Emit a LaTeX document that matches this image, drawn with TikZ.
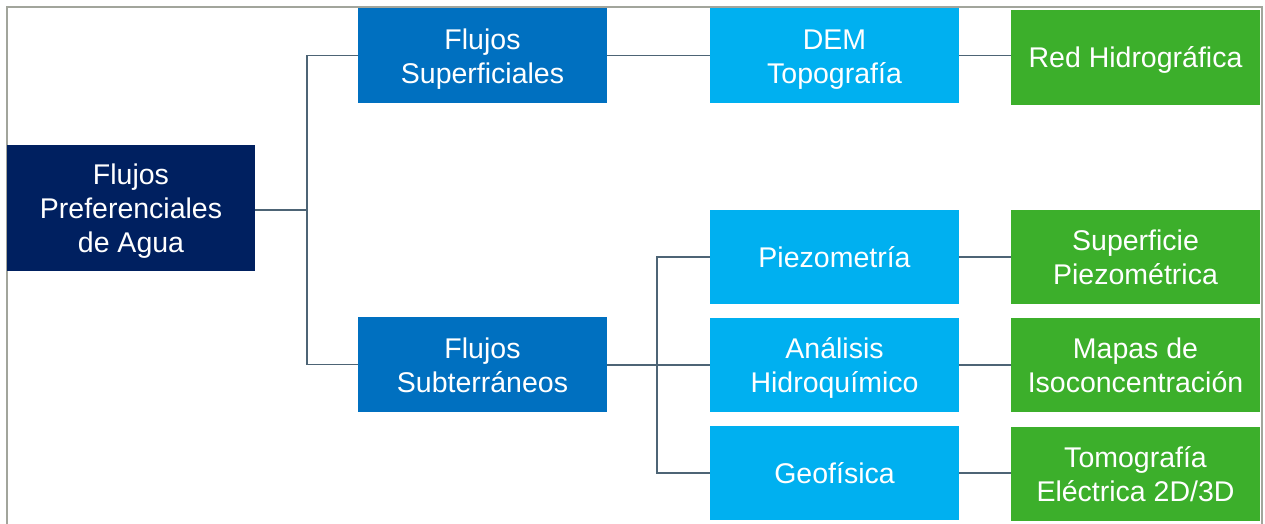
\documentclass[tikz,border=0pt]{standalone}
\usepackage{fontspec}
\setmainfont{Liberation Sans}
\definecolor{navy}{HTML}{002060}
\definecolor{midblue}{HTML}{0070C0}
\definecolor{lightblue}{HTML}{00B0F0}
\definecolor{leafgreen}{HTML}{3CAF2B}
\definecolor{linkcol}{HTML}{4D6475}
\definecolor{framecol}{HTML}{A2A59C}
\tikzset{
  box/.style={draw=none, text=white, align=center, inner sep=0pt,
    minimum width=249pt, minimum height=95pt,
    text height=28pt, text depth=6.4pt,
    font=\fontsize{28.5}{34}\selectfont},
  twolines/.style={text height=62pt},
  threelines/.style={text height=96pt},
  rootbox/.style={box, fill=navy, minimum width=248pt, minimum height=126pt},
  lvone/.style={box, fill=midblue},
  lvtwo/.style={box, fill=lightblue},
  lvthree/.style={box, fill=leafgreen},
  link/.style={draw=linkcol, line width=1.5pt},
}
\begin{document}
\begin{tikzpicture}[x=1pt,y=-1pt]
\useasboundingbox (0,0) rectangle (1265,523);
\draw[framecol, line width=2pt] (7,530) -- (7,7) -- (1262,7) -- (1262,530);

\node[rootbox, threelines] (root) at (131,208) {Flujos\\Preferenciales\\de Agua};
\node[lvone, twolines] (fs) at (482.5,55.5) {Flujos\\Superficiales};
\node[lvone, twolines] (fsub) at (482.5,364.5) {Flujos\\Subterráneos};
\node[lvtwo, twolines] (dem) at (834.5,55.5) {DEM\\Topografía};
\node[lvtwo, minimum height=94pt] (piezo) at (834.5,257) {Piezometría};
\node[lvtwo, twolines, minimum height=94pt] (anal) at (834.5,365) {Análisis\\Hidroquímico};
\node[lvtwo, minimum height=94pt] (geo) at (834.5,473) {Geofísica};
\node[lvthree] (red) at (1135.5,57) {Red Hidrográfica};
\node[lvthree, twolines, minimum height=94pt] (sup) at (1135.5,257) {Superficie\\Piezométrica};
\node[lvthree, twolines, minimum height=94pt] (mapas) at (1135.5,365) {Mapas de\\Isoconcentración};
\node[lvthree, twolines, minimum height=94pt] (tomo) at (1135.5,474) {Tomografía\\Eléctrica 2D/3D};

\coordinate (j1) at (307,210);
\coordinate (j2) at (657,365);
\draw[link] (root.east |- j1) -- (j1);
\draw[link] (j1) |- (fs.west);
\draw[link] (j1) |- (fsub.west);
\draw[link] (fsub.east |- j2) -- (j2);
\draw[link] (j2) |- (piezo.west);
\draw[link] (j2) -- (anal.west |- j2);
\draw[link] (j2) |- (geo.west);
\draw[link] (fs.east) -- (dem.west);
\draw[link] (dem.east) -- (red.west |- dem.east);
\draw[link] (piezo.east) -- (sup.west);
\draw[link] (anal.east) -- (mapas.west);
\draw[link] (geo.east) -- (tomo.west |- geo.east);
\end{tikzpicture}
\end{document}
